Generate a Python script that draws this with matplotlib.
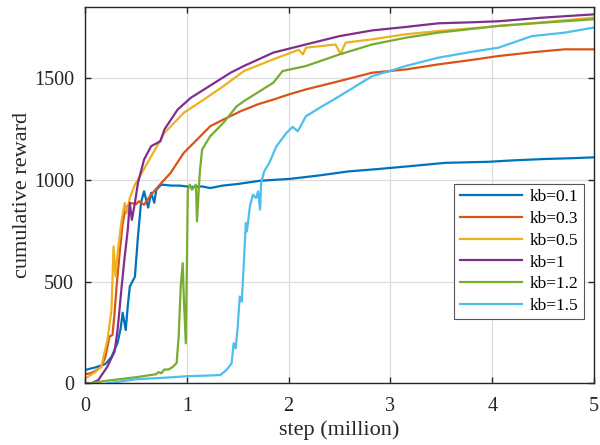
import matplotlib
matplotlib.use('Agg')
import matplotlib.pyplot as plt

plt.rcParams['font.family'] = ['Liberation Serif', 'DejaVu Serif']

# training curves, step in millions vs cumulative reward
x_01 = [0.0, 0.05, 0.10, 0.16, 0.20, 0.26, 0.32, 0.35, 0.37, 0.40, 0.42, 0.44, 0.49, 0.52, 0.55,
        0.58, 0.62, 0.65, 0.68, 0.70, 0.75, 0.85, 0.93, 1.05, 1.15, 1.23, 1.35, 1.50, 1.72,
        2.01, 2.30, 2.59, 2.89, 3.20, 3.54, 3.96, 4.20, 4.52, 4.80, 5.0]
y_01 = [65, 72, 78, 88, 95, 130, 199, 270, 347, 262, 380, 476, 524, 722, 888,
        944, 864, 937, 888, 952, 977, 972, 972, 965, 968, 960, 972, 980, 996,
        1005, 1022, 1042, 1054, 1068, 1084, 1089, 1096, 1103, 1107, 1111]

x_03 = [0.0, 0.05, 0.10, 0.16, 0.20, 0.24, 0.27, 0.29, 0.31, 0.34, 0.37, 0.40, 0.45, 0.50, 0.53,
        0.58, 0.65, 0.75, 0.84, 0.97, 1.10, 1.23, 1.36, 1.53, 1.70, 1.85, 2.00, 2.17,
        2.50, 2.82, 3.15, 3.47, 3.80, 4.06, 4.40, 4.71, 5.0]
y_03 = [45, 49, 60, 82, 130, 230, 238, 344, 476, 640, 788, 864, 887, 880, 895,
        878, 928, 985, 1034, 1133, 1198, 1264, 1297, 1338, 1372, 1395, 1420, 1445,
        1486, 1527, 1543, 1568, 1590, 1609, 1628, 1642, 1642]

x_05 = [0.0, 0.03, 0.10, 0.16, 0.22, 0.26, 0.28, 0.30, 0.32, 0.36, 0.39, 0.41, 0.44, 0.49,
        0.52, 0.65, 0.78, 0.97, 1.17, 1.36, 1.56, 1.85, 2.10, 2.14, 2.17, 2.46, 2.51,
        2.56, 2.82, 3.15, 3.47, 3.80, 4.06, 4.50, 5.0]
y_05 = [25, 33, 55, 82, 213, 361, 673, 525, 640, 804, 887, 837, 911, 977,
        1001, 1116, 1231, 1330, 1396, 1461, 1535, 1593, 1640, 1617, 1650, 1666, 1620,
        1675, 1691, 1716, 1732, 1745, 1757, 1775, 1798]

x_1 = [0.0, 0.06, 0.13, 0.22, 0.29, 0.32, 0.36, 0.39, 0.42, 0.44, 0.46, 0.49, 0.52, 0.58,
       0.65, 0.74, 0.78, 0.91, 1.04, 1.17, 1.30, 1.43, 1.56, 1.85, 2.17, 2.50, 2.82,
       3.15, 3.47, 3.80, 4.06, 4.50, 5.0]
y_1 = [0, 0, 16, 82, 156, 263, 476, 624, 755, 887, 804, 887, 985, 1100,
       1166, 1190, 1248, 1346, 1404, 1445, 1486, 1527, 1560, 1626, 1666, 1707, 1735,
       1752, 1770, 1775, 1780, 1798, 1814]

x_12 = [0.05, 0.10, 0.25, 0.50, 0.70, 0.72, 0.75, 0.78, 0.82, 0.86, 0.90, 0.92, 0.94,
        0.96, 0.97, 0.99, 1.00, 1.01, 1.03, 1.05, 1.09, 1.10, 1.12, 1.13, 1.15, 1.23,
        1.36, 1.49, 1.56, 1.85, 1.94, 2.17, 2.50, 2.82, 3.15, 3.47, 4.06, 4.50, 5.0]
y_12 = [0, 5, 15, 30, 45, 55, 50, 68, 68, 80, 100, 230, 476,
        591, 427, 197, 558, 952, 977, 952, 977, 796, 977, 1051, 1149, 1215,
        1281, 1362, 1387, 1478, 1535, 1560, 1617, 1666, 1699, 1724, 1757, 1773, 1790]

x_15 = [0.22, 0.50, 0.80, 1.00, 1.20, 1.33, 1.39, 1.44, 1.46, 1.48, 1.50, 1.52, 1.54, 1.56,
        1.58, 1.59, 1.62, 1.65, 1.68, 1.70, 1.72, 1.73, 1.76, 1.81, 1.88, 1.98, 2.04,
        2.09, 2.17, 2.33, 2.50, 2.66, 2.82, 2.99, 3.15, 3.47, 3.80, 4.06, 4.39, 4.71, 5.0]
y_15 = [0, 20, 28, 35, 38, 41, 66, 98, 197, 172, 279, 427, 402, 591,
        788, 747, 870, 928, 911, 944, 854, 985, 1042, 1084, 1165, 1232, 1261,
        1239, 1313, 1362, 1412, 1461, 1510, 1535, 1560, 1601, 1630, 1650, 1707, 1724, 1749]

series = [
    ('kb=0.1', x_01, y_01, '#0072BD'),
    ('kb=0.3', x_03, y_03, '#D95319'),
    ('kb=0.5', x_05, y_05, '#EDB120'),
    ('kb=1', x_1, y_1, '#7E2F8E'),
    ('kb=1.2', x_12, y_12, '#77AC30'),
    ('kb=1.5', x_15, y_15, '#4DBEEE'),
]

fig = plt.figure(figsize=(6, 4.45), dpi=100)
ax = fig.add_axes([0.1417, 0.1386, 0.8483, 0.8456])

for label, xs, ys, color in series:
    ax.plot(xs, ys, color=color, lw=1.6, label=label)

ax.set_xlim(0, 5)
ax.set_ylim(0, 1850)
ax.set_xticks([0, 1, 2, 3, 4, 5])
ax.set_yticks([0, 500, 1000, 1500])
ax.grid(True, color='#DCDCDC', lw=0.9)
ax.set_axisbelow(True)
ax.tick_params(direction='in', length=4, width=1, top=True, right=True,
               labelsize=14.5, colors='#262626')
ax.tick_params(axis='x', pad=10)
ax.tick_params(axis='y', pad=8)
for sp in ax.spines.values():
    sp.set_color('#262626')
    sp.set_linewidth(1.0)

ax.set_xlabel('step (million)', fontsize=16, color='#262626', labelpad=3)
ax.set_ylabel('cumulative reward', fontsize=16, color='#262626', labelpad=1)

leg = ax.legend(loc='upper right', bbox_to_anchor=(0.98, 0.531), fontsize=12.5,
                handlelength=3.6, fancybox=False, framealpha=1, borderpad=0.3,
                labelspacing=0.33, handletextpad=0.45, borderaxespad=0)
leg.get_frame().set_edgecolor('#555555')
leg.get_frame().set_linewidth(0.8)

fig.savefig('out.png', dpi=100)
